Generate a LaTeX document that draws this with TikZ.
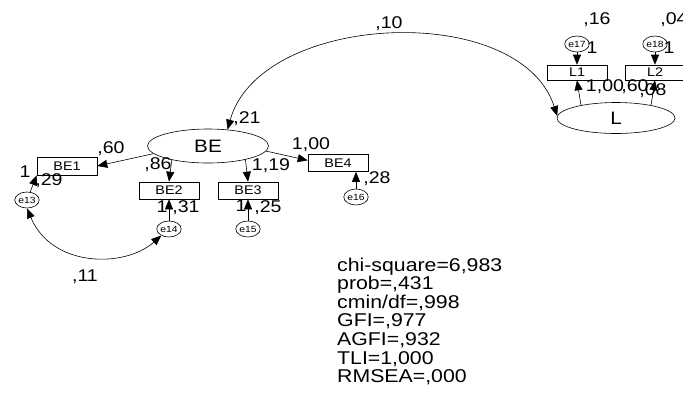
\documentclass[tikz,border=0pt]{standalone}
\usepackage{fontspec}
\setmainfont{Liberation Sans}
\newfontfamily\wfont[FakeStretch=1.15]{Liberation Sans}
\usetikzlibrary{arrows.meta,shapes.geometric}
\begin{document}
\begin{tikzpicture}[x=1pt,y=-1pt,
  lat/.style={draw,ellipse,inner sep=0pt,line width=0.6pt,font=\wfont\fontsize{18}{18}\selectfont},
  obs/.style={draw,rectangle,minimum width=60pt,minimum height=17pt,inner sep=0pt,line width=0.6pt,font=\wfont\fontsize{12.5}{12.5}\selectfont},
  err/.style={draw,ellipse,minimum width=20pt,minimum height=16pt,inner sep=0pt,line width=0.6pt,font=\wfont\fontsize{9}{9}\selectfont},
  lbl/.style={font=\wfont\fontsize{17}{17}\selectfont,inner sep=0pt,anchor=base},
  arr/.style={-{Triangle[length=10pt,width=8pt]},line width=0.6pt},
  darr/.style={{Triangle[length=10pt,width=8pt]}-{Triangle[length=10pt,width=8pt]},line width=0.6pt}]
\useasboundingbox (0,0) rectangle (683,400);
% latent
\node[lat,minimum width=121pt,minimum height=34pt] (BE) at (208,146) {BE};
\node[lat,minimum width=118pt,minimum height=31pt] (L) at (616,118) {L};
% observed
\node[obs,minimum height=18pt] (BE1) at (67,166) {BE1};
\node[obs] (BE2) at (169,190.5) {BE2};
\node[obs] (BE3) at (248,190.5) {BE3};
\node[obs] (BE4) at (338,163) {BE4};
\node[obs,minimum height=15pt] (L1) at (577,72.5) {L1};
\node[obs,minimum height=15pt] (L2) at (655,72.5) {L2};
% errors
\node[err] (e13) at (27,200) {e13};
\node[err] (e14) at (169,229) {e14};
\node[err] (e15) at (248,229) {e15};
\node[err] (e16) at (356,197) {e16};
\node[err] (e17) at (577,44) {e17};
\node[err] (e18) at (655,44) {e18};
% regression paths
\draw[arr] (BE.188) -- (BE1.east);
\draw[arr] (BE.201) -- (BE2.north);
\draw[arr] (BE.340) -- (BE3.north);
\draw[arr] (BE.355) -- (BE4.175);
\draw[arr] (e13) -- (BE1.south west);
\draw[arr] (e14) -- (BE2);
\draw[arr] (e15) -- (BE3);
\draw[arr] (e16.north) -- (e16.north |- BE4.south);
\draw[arr] (e17) -- (L1);
\draw[arr] (e18) -- (L2);
\draw[arr] (L.160) -- (L1.south);
\draw[arr] (L.20) -- (L2.south);
% covariances
\draw[darr] (BE.40) .. controls (260,12) and (520,0) .. (L.178);
\draw[darr] (e13.south) .. controls (52,268) and (125,268) .. (e14.220);
% labels
\node[lbl] at (389,28) {,10};
\node[lbl] at (247,123) {,21};
\node[lbl] at (111,153) {,60};
\node[lbl] at (158,169) {,86};
\node[lbl] at (271,170) {1,19};
\node[lbl] at (311,149) {1,00};
\node[lbl] at (25,177) {1};
\node[lbl] at (49,185) {,29};
\node[lbl] at (162,212) {1};
\node[lbl] at (186,212) {,31};
\node[lbl] at (241,211) {1};
\node[lbl] at (268,212) {,25};
\node[lbl] at (377,183) {,28};
\node[lbl] at (85,281) {,11};
\node[lbl] at (597,24) {,16};
\node[lbl] at (674,24) {,04};
\node[lbl] at (592,53) {1};
\node[lbl] at (669,53) {1};
\node[lbl] at (605,91) {1,00};
\node[lbl] at (635,91) {,60};
\node[lbl] at (653,95) {,08};
% fit statistics
\node[anchor=north west,align=left,inner sep=0pt,font=\wfont\fontsize{18.5}{18.6}\selectfont] (stats) at (337,257.5)
{chi-square=6,983\\prob=,431\\cmin/df=,998\\GFI=,977\\AGFI=,932\\TLI=1,000\\RMSEA=,000};
\end{tikzpicture}
\end{document}
